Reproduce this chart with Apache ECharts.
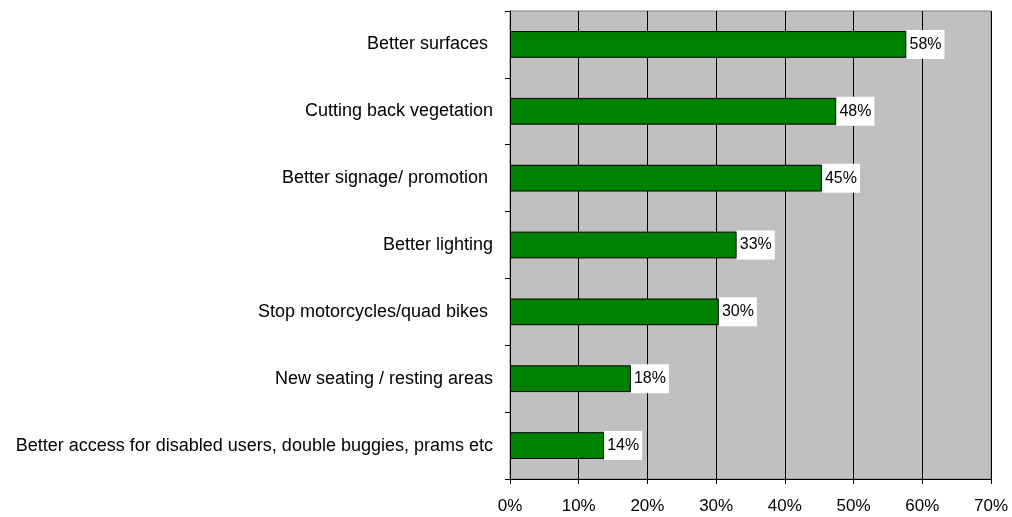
<!DOCTYPE html>
<html><head><meta charset="utf-8">
<script src="https://cdn.jsdelivr.net/npm/echarts@6/dist/echarts.min.js"></script>
<style>html,body{margin:0;padding:0;background:#fff}#c{width:1012px;height:517px}</style>
</head><body><div id="c"></div>
<script>
const categories = [
  "Better access for disabled users, double buggies, prams etc",
  "New seating / resting areas",
  "Stop motorcycles/quad bikes ",
  "Better lighting",
  "Better signage/ promotion ",
  "Cutting back vegetation",
  "Better surfaces "
];
const values = [13.7, 17.6, 30.4, 33.0, 45.4, 47.5, 57.7];
const xTicks = [0, 10, 20, 30, 40, 50, 60, 70];

const chart = echarts.init(document.getElementById('c'));
chart.setOption({
  animation: false,
  grid: { left: 510, right: 21, top: 11, bottom: 38, backgroundColor: '#C0C0C0', show: true, borderColor: '#808080', borderWidth: 1 },
  xAxis: {
    type: 'value', min: xTicks[0], max: xTicks[xTicks.length-1], interval: 10,
    axisLine: { show: true, lineStyle: { color: '#000' } },
    axisTick: { show: true, length: 5, lineStyle: { color: '#000' } },
    axisLabel: { formatter: v => v + '%', color: '#000', fontFamily: 'Liberation Sans', fontSize: 17, margin: 19 },
    splitLine: { show: true, lineStyle: { color: '#000', width: 1 } }
  },
  yAxis: {
    type: 'category', data: categories,
    axisLine: { show: true, lineStyle: { color: '#000' } },
    axisTick: { show: true, length: 5, lineStyle: { color: '#000' } },
    axisLabel: { color: '#000', fontFamily: 'Liberation Sans', fontSize: 18, margin: 17 },
    splitLine: { show: false }
  },
  series: [{
    type: 'bar', data: values, barCategoryGap: '60%',
    itemStyle: { color: '#008000', borderColor: '#000', borderWidth: 1 },
    label: {
      show: true, position: 'right', distance: 0,
      formatter: p => Math.round(p.value) + '%',
      color: '#000', fontFamily: 'Liberation Sans', fontSize: 16,
      backgroundColor: '#fff', padding: [7, 3, 6, 3]
    }
  }]
});
</script></body></html>
